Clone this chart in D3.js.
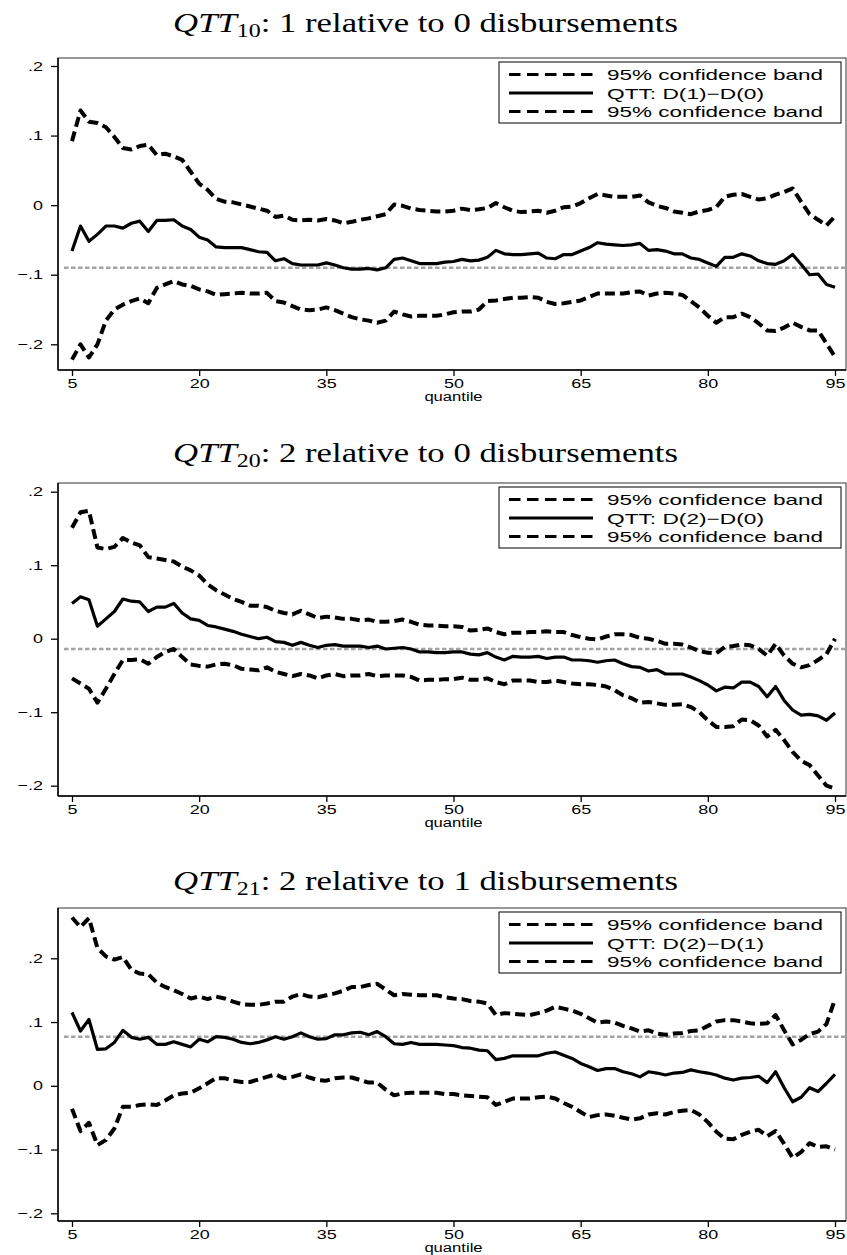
<!DOCTYPE html>
<html>
<head>
<meta charset="utf-8">
<script src="https://cdn.jsdelivr.net/npm/d3@7"></script>
<style>
  html, body { margin: 0; padding: 0; background: #fff; }
  svg { display: block; }
</style>
</head>
<body>
<svg id="chart" width="847" height="1255"></svg>
<script>
// ---------- DATA ----------
const quantiles = [5,6,7,8,9,10,11,12,13,14,15,16,17,18,19,20,21,22,23,24,25,26,27,28,29,30,31,32,33,34,35,36,37,38,39,40,41,42,43,44,45,46,47,48,49,50,51,52,53,54,55,56,57,58,59,60,61,62,63,64,65,66,67,68,69,70,71,72,73,74,75,76,77,78,79,80,81,82,83,84,85,86,87,88,89,90,91,92,93,94,95];

const xTicks = [5, 20, 35, 50, 65, 80, 95];
const yTicks = [-0.2, -0.1, 0, 0.1, 0.2];
const yTickLabels = ["\u2212.2", "\u2212.1", "0", ".1", ".2"];
const xAxisLabel = "quantile";
const bandLabel = "95% confidence band";

const titlesSub = ["10", "20", "21"];
const titlesRest = [": 1 relative to 0 disbursements", ": 2 relative to 0 disbursements", ": 2 relative to 1 disbursements"];
const qttLabels = ["QTT: D(1)\u2212D(0)", "QTT: D(2)\u2212D(0)", "QTT: D(2)\u2212D(1)"];
const refValues = [-0.090, -0.014, 0.077];

// Panel 1: 1 vs 0
const p1Upper = [0.092,0.136,0.120,0.118,0.112,0.098,0.082,0.080,0.085,0.087,
  0.072,0.074,0.070,0.065,0.048,0.031,0.022,0.009,0.005,0.004,
  0.001,-0.002,-0.005,-0.008,-0.017,-0.015,-0.021,-0.022,-0.021,-0.022,
  -0.020,-0.022,-0.026,-0.024,-0.021,-0.019,-0.016,-0.013,0.001,-0.001,
  -0.005,-0.007,-0.008,-0.009,-0.009,-0.008,-0.005,-0.007,-0.006,-0.004,
  0.003,-0.003,-0.008,-0.010,-0.009,-0.008,-0.011,-0.008,-0.003,-0.002,
  0.003,0.010,0.016,0.014,0.012,0.012,0.012,0.014,0.004,-0.001,
  -0.004,-0.009,-0.011,-0.013,-0.009,-0.007,-0.003,0.012,0.015,0.016,
  0.012,0.008,0.010,0.015,0.019,0.024,0.005,-0.013,-0.021,-0.029,
  -0.016];
const p1Qtt = [-0.066,-0.030,-0.052,-0.042,-0.030,-0.030,-0.033,-0.026,-0.023,-0.038,
  -0.022,-0.022,-0.021,-0.030,-0.035,-0.046,-0.050,-0.060,-0.061,-0.061,
  -0.061,-0.064,-0.067,-0.068,-0.080,-0.077,-0.084,-0.086,-0.086,-0.086,
  -0.083,-0.086,-0.090,-0.092,-0.092,-0.091,-0.093,-0.090,-0.078,-0.076,
  -0.080,-0.084,-0.084,-0.084,-0.082,-0.081,-0.078,-0.080,-0.079,-0.075,
  -0.065,-0.070,-0.071,-0.071,-0.070,-0.069,-0.076,-0.077,-0.071,-0.071,
  -0.066,-0.061,-0.054,-0.056,-0.057,-0.058,-0.057,-0.055,-0.065,-0.064,
  -0.066,-0.070,-0.070,-0.076,-0.078,-0.083,-0.088,-0.075,-0.075,-0.070,
  -0.073,-0.080,-0.084,-0.085,-0.080,-0.071,-0.085,-0.100,-0.099,-0.114,
  -0.118];
const p1Lower = [-0.222,-0.200,-0.219,-0.200,-0.166,-0.150,-0.143,-0.138,-0.134,-0.141,
  -0.119,-0.114,-0.109,-0.114,-0.116,-0.121,-0.124,-0.129,-0.128,-0.127,
  -0.126,-0.127,-0.127,-0.126,-0.138,-0.140,-0.145,-0.150,-0.151,-0.150,
  -0.147,-0.151,-0.156,-0.161,-0.164,-0.166,-0.169,-0.166,-0.153,-0.157,
  -0.160,-0.159,-0.159,-0.159,-0.157,-0.154,-0.153,-0.153,-0.150,-0.138,
  -0.137,-0.135,-0.133,-0.133,-0.132,-0.133,-0.139,-0.142,-0.141,-0.139,
  -0.137,-0.132,-0.127,-0.127,-0.127,-0.127,-0.125,-0.124,-0.130,-0.127,
  -0.126,-0.127,-0.129,-0.138,-0.147,-0.159,-0.169,-0.161,-0.161,-0.156,
  -0.161,-0.170,-0.180,-0.181,-0.176,-0.169,-0.175,-0.180,-0.180,-0.199,
  -0.218];

// Panel 2: 2 vs 0
const p2Upper = [0.151,0.172,0.174,0.124,0.122,0.125,0.137,0.131,0.127,0.111,
  0.109,0.107,0.105,0.098,0.093,0.086,0.074,0.066,0.060,0.054,
  0.050,0.045,0.045,0.043,0.038,0.035,0.033,0.038,0.033,0.028,
  0.030,0.029,0.027,0.027,0.025,0.026,0.023,0.023,0.024,0.026,
  0.023,0.019,0.018,0.018,0.017,0.017,0.016,0.011,0.012,0.014,
  0.009,0.006,0.008,0.008,0.009,0.009,0.010,0.009,0.009,0.005,
  0.002,0.000,-0.001,0.003,0.006,0.006,0.005,0.001,0.000,-0.003,
  -0.007,-0.007,-0.008,-0.012,-0.017,-0.019,-0.020,-0.011,-0.010,-0.008,
  -0.009,-0.014,-0.023,-0.007,-0.023,-0.034,-0.039,-0.036,-0.029,-0.021,
  0.000];
const p2Qtt = [0.048,0.057,0.053,0.017,0.027,0.037,0.054,0.051,0.050,0.037,
  0.043,0.043,0.048,0.035,0.027,0.025,0.018,0.016,0.013,0.010,
  0.006,0.003,0.000,0.002,-0.004,-0.005,-0.009,-0.005,-0.009,-0.012,
  -0.009,-0.008,-0.010,-0.010,-0.010,-0.012,-0.010,-0.014,-0.013,-0.012,
  -0.014,-0.018,-0.018,-0.019,-0.019,-0.018,-0.018,-0.021,-0.022,-0.019,
  -0.025,-0.029,-0.024,-0.025,-0.025,-0.024,-0.027,-0.025,-0.025,-0.029,
  -0.029,-0.030,-0.032,-0.030,-0.029,-0.034,-0.038,-0.039,-0.044,-0.042,
  -0.048,-0.048,-0.048,-0.052,-0.057,-0.063,-0.071,-0.066,-0.067,-0.059,
  -0.059,-0.065,-0.079,-0.065,-0.084,-0.097,-0.104,-0.103,-0.105,-0.111,
  -0.101];
const p2Lower = [-0.054,-0.061,-0.068,-0.087,-0.068,-0.048,-0.029,-0.029,-0.028,-0.034,
  -0.025,-0.018,-0.014,-0.025,-0.035,-0.037,-0.038,-0.035,-0.034,-0.036,
  -0.041,-0.042,-0.043,-0.039,-0.045,-0.048,-0.051,-0.048,-0.050,-0.054,
  -0.050,-0.048,-0.051,-0.050,-0.050,-0.048,-0.051,-0.050,-0.050,-0.050,
  -0.052,-0.057,-0.056,-0.056,-0.055,-0.055,-0.053,-0.056,-0.056,-0.054,
  -0.059,-0.062,-0.057,-0.057,-0.057,-0.059,-0.059,-0.057,-0.059,-0.061,
  -0.062,-0.062,-0.063,-0.065,-0.070,-0.077,-0.081,-0.087,-0.086,-0.088,
  -0.090,-0.090,-0.089,-0.093,-0.100,-0.111,-0.120,-0.120,-0.119,-0.110,
  -0.111,-0.118,-0.133,-0.124,-0.138,-0.154,-0.166,-0.172,-0.186,-0.200,
  -0.204];

// Panel 3: 2 vs 1
const p3Upper = [0.264,0.249,0.263,0.216,0.203,0.198,0.202,0.182,0.176,0.175,
  0.162,0.155,0.150,0.144,0.137,0.140,0.136,0.140,0.137,0.132,
  0.128,0.127,0.127,0.129,0.132,0.132,0.140,0.144,0.140,0.139,
  0.142,0.145,0.149,0.155,0.155,0.158,0.160,0.151,0.142,0.144,
  0.143,0.142,0.142,0.142,0.139,0.137,0.136,0.133,0.132,0.129,
  0.111,0.114,0.113,0.112,0.111,0.114,0.118,0.124,0.121,0.118,
  0.113,0.106,0.099,0.101,0.099,0.094,0.090,0.085,0.087,0.082,
  0.080,0.082,0.083,0.086,0.087,0.094,0.101,0.103,0.103,0.101,
  0.098,0.097,0.098,0.111,0.087,0.065,0.072,0.081,0.085,0.097,
  0.136];
const p3Qtt = [0.115,0.086,0.104,0.057,0.058,0.068,0.087,0.076,0.073,0.076,
  0.065,0.065,0.069,0.065,0.061,0.073,0.069,0.077,0.076,0.073,
  0.068,0.066,0.068,0.072,0.077,0.073,0.077,0.083,0.077,0.073,
  0.074,0.080,0.080,0.083,0.084,0.080,0.085,0.077,0.066,0.065,
  0.068,0.065,0.065,0.065,0.064,0.063,0.060,0.059,0.056,0.055,
  0.041,0.043,0.047,0.047,0.047,0.047,0.051,0.053,0.048,0.043,
  0.035,0.030,0.024,0.027,0.027,0.022,0.019,0.014,0.022,0.020,
  0.017,0.020,0.021,0.025,0.022,0.020,0.017,0.012,0.009,0.012,
  0.013,0.015,0.005,0.022,-0.003,-0.025,-0.018,-0.003,-0.009,0.004,
  0.018];
const p3Lower = [-0.036,-0.071,-0.058,-0.093,-0.085,-0.067,-0.033,-0.033,-0.030,-0.029,
  -0.030,-0.023,-0.015,-0.012,-0.011,-0.004,0.004,0.012,0.012,0.008,
  0.006,0.006,0.010,0.014,0.018,0.012,0.014,0.018,0.013,0.009,
  0.008,0.012,0.013,0.013,0.009,0.005,0.005,-0.006,-0.015,-0.012,
  -0.011,-0.011,-0.011,-0.011,-0.013,-0.013,-0.015,-0.016,-0.017,-0.018,
  -0.030,-0.025,-0.020,-0.020,-0.020,-0.018,-0.017,-0.020,-0.027,-0.033,
  -0.041,-0.049,-0.046,-0.045,-0.047,-0.050,-0.053,-0.051,-0.045,-0.043,
  -0.045,-0.041,-0.039,-0.038,-0.045,-0.057,-0.072,-0.083,-0.084,-0.077,
  -0.072,-0.069,-0.079,-0.071,-0.091,-0.113,-0.104,-0.090,-0.096,-0.095,
  -0.100];

// ---------- LAYOUT ----------
const layout = [
  { titleY: 32,  top: 58,  bottom: 370,  yPx: [344.3, 66] },
  { titleY: 462, top: 483, bottom: 796,  yPx: [785.7, 491.7] },
  { titleY: 890, top: 908, bottom: 1221, yPx: [1213.3, 958.3] }
];
const seriesSets = [
  [p1Upper, p1Qtt, p1Lower],
  [p2Upper, p2Qtt, p2Lower],
  [p3Upper, p3Qtt, p3Lower]
];

const plotLeft = 58, plotRight = 846;
const sans = "'Liberation Sans', Arial, Helvetica, sans-serif";
const serif = "'Liberation Serif', 'Times New Roman', serif";
const svg = d3.select("#chart");
const x = d3.scaleLinear().domain([5, 95]).range([72, 835]);

function stretch(sel, factor) {
  sel.each(function() {
    const w = this.getComputedTextLength();
    d3.select(this).attr("textLength", w * factor).attr("lengthAdjust", "spacingAndGlyphs");
  });
}

layout.forEach((L, i) => {
  const g = svg.append("g");
  const y = d3.scaleLinear().domain([-0.2, 0.2]).range(L.yPx);
  const [up, qtt, lo] = seriesSets[i];

  // Title
  const tg = g.append("g").attr("transform", `translate(425.5,${L.titleY})`);
  const t = tg.append("text")
    .attr("text-anchor", "middle")
    .attr("font-family", serif)
    .attr("font-size", 27.5)
    .attr("fill", "#000");
  t.append("tspan").attr("font-style", "italic").text("QTT");
  t.append("tspan").attr("font-size", 19).attr("dy", 4.5).text(titlesSub[i]);
  t.append("tspan").attr("dy", -4.5).text(titlesRest[i]);
  const tw = t.node().getComputedTextLength();
  tg.attr("transform", `translate(425.5,${L.titleY}) scale(${505 / tw},1)`);

  // Frame
  g.append("rect")
    .attr("x", plotLeft).attr("y", L.top)
    .attr("width", plotRight - plotLeft).attr("height", L.bottom - L.top)
    .attr("fill", "none").attr("stroke", "#555").attr("stroke-width", 1.2);

  // Reference line
  g.append("line")
    .attr("x1", 64).attr("x2", plotRight)
    .attr("y1", y(refValues[i])).attr("y2", y(refValues[i]))
    .attr("stroke", "#a3a3a3").attr("stroke-width", 2.5)
    .attr("stroke-dasharray", "4.5,2.5");

  // Lines
  const line = d3.line().x((d, k) => x(quantiles[k])).y(d => y(d));
  g.append("path").datum(up).attr("d", line)
    .attr("fill", "none").attr("stroke", "#000").attr("stroke-width", 4)
    .attr("stroke-dasharray", "10,5").attr("stroke-linejoin", "round");
  g.append("path").datum(lo).attr("d", line)
    .attr("fill", "none").attr("stroke", "#000").attr("stroke-width", 4)
    .attr("stroke-dasharray", "10,5").attr("stroke-linejoin", "round");
  g.append("path").datum(qtt).attr("d", line)
    .attr("fill", "none").attr("stroke", "#000").attr("stroke-width", 3.2)
    .attr("stroke-linejoin", "round");

  // Y axis
  const ya = g.append("g").attr("transform", `translate(${plotLeft},0)`)
    .call(d3.axisLeft(y).tickValues(yTicks).tickFormat((d, k) => yTickLabels[k])
      .tickSize(7).tickSizeOuter(0).tickPadding(8));
  ya.select(".domain").remove();
  ya.append("line").attr("x1", 0).attr("x2", 0).attr("y1", L.top).attr("y2", L.bottom)
    .attr("stroke", "#000").attr("stroke-width", 1.5);
  ya.selectAll(".tick line").attr("stroke", "#000").attr("stroke-width", 1.3);
  ya.selectAll(".tick text").attr("font-family", sans).attr("font-size", 13).attr("fill", "#000")
    .call(stretch, 1.38);

  // X axis
  const xa = g.append("g").attr("transform", `translate(0,${L.bottom})`)
    .call(d3.axisBottom(x).tickValues(xTicks).tickFormat(d3.format("d"))
      .tickSize(6).tickSizeOuter(0).tickPadding(3));
  xa.select(".domain").remove();
  xa.append("line").attr("x1", plotLeft).attr("x2", plotRight).attr("y1", 0).attr("y2", 0)
    .attr("stroke", "#000").attr("stroke-width", 1.5);
  xa.selectAll(".tick line").attr("stroke", "#000").attr("stroke-width", 1.3);
  xa.selectAll(".tick text").attr("font-family", sans).attr("font-size", 13).attr("fill", "#000")
    .call(stretch, 1.38);
  g.append("text")
    .attr("x", x(50)).attr("y", L.bottom + 31)
    .attr("text-anchor", "middle").attr("font-family", sans).attr("font-size", 12.5)
    .attr("fill", "#000").text(xAxisLabel).call(stretch, 1.33);

  // Legend
  const lg = g.append("g").attr("transform", `translate(499,${L.top + 4})`);
  lg.append("rect").attr("x", 0).attr("y", 0).attr("width", 342).attr("height", 61)
    .attr("fill", "#fff").attr("stroke", "#000").attr("stroke-width", 1);
  const rows = [
    { label: bandLabel, dash: "11.5,6.5", w: 216 },
    { label: qttLabels[i], dash: null, w: 157 },
    { label: bandLabel, dash: "11.5,6.5", w: 216 }
  ];
  rows.forEach((r, k) => {
    const ry = 12.5 + k * 18.5;
    const ln = lg.append("line").attr("x1", 10).attr("x2", 94).attr("y1", ry).attr("y2", ry)
      .attr("stroke", "#000").attr("stroke-width", 3);
    if (r.dash) ln.attr("stroke-dasharray", r.dash);
    lg.append("text").attr("x", 108).attr("y", ry + 5.5)
      .attr("font-family", sans).attr("font-size", 15).attr("fill", "#000")
      .text(r.label).attr("textLength", r.w).attr("lengthAdjust", "spacingAndGlyphs");
  });
});
</script>
</body>
</html>
